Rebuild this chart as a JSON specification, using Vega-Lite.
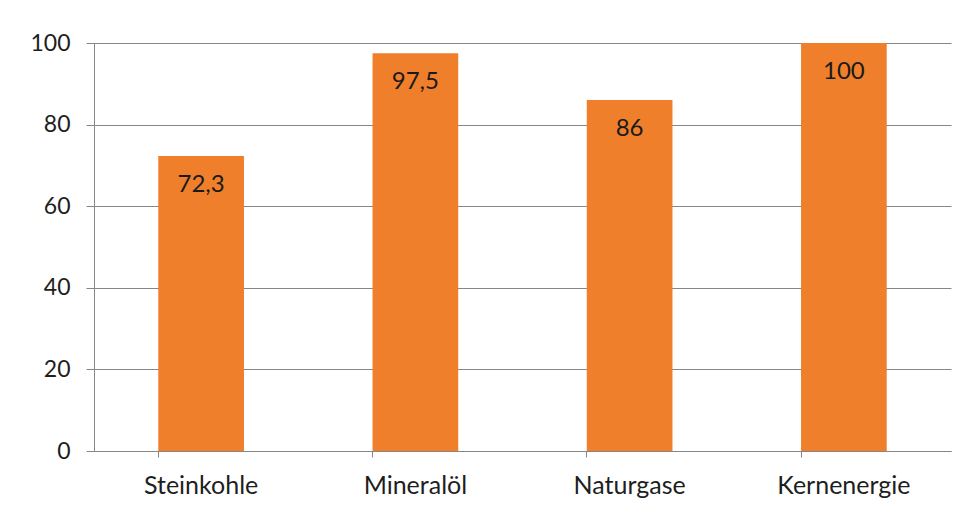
{
  "$schema": "https://vega.github.io/schema/vega-lite/v6.json",
  "autosize": "none",
  "width": 857,
  "height": 408,
  "padding": {"left": 94, "top": 43, "right": 19, "bottom": 62},
  "background": "white",
  "config": {
    "view": {"stroke": null},
    "font": "Lato"
  },
  "data": {
    "values": [
      {"Energietraeger": "Steinkohle", "Wert": 72.3, "Beschriftung": "72,3"},
      {"Energietraeger": "Mineralöl", "Wert": 97.5, "Beschriftung": "97,5"},
      {"Energietraeger": "Naturgase", "Wert": 86, "Beschriftung": "86"},
      {"Energietraeger": "Kernenergie", "Wert": 100, "Beschriftung": "100"}
    ]
  },
  "encoding": {
    "x": {
      "field": "Energietraeger",
      "type": "nominal",
      "sort": null,
      "scale": {"paddingInner": 0.6, "paddingOuter": 0.3},
      "axis": {
        "title": null,
        "labelAngle": 0,
        "labelFontSize": 25,
        "labelColor": "#1e1e1e",
        "labelPadding": 16,
        "domainColor": "#868686",
        "tickColor": "#868686",
        "tickSize": 6,
        "bandPosition": 0
      }
    },
    "y": {
      "field": "Wert",
      "type": "quantitative",
      "scale": {"domain": [0, 100], "nice": false},
      "axis": {
        "title": null,
        "values": [0, 20, 40, 60, 80, 100],
        "labelFontSize": 23,
        "labelColor": "#1e1e1e",
        "labelPadding": 16,
        "grid": true,
        "gridColor": "#868686",
        "domainColor": "#868686",
        "tickColor": "#868686",
        "tickSize": 8
      }
    }
  },
  "layer": [
    {
      "mark": {"type": "bar", "color": "#F07F2C"}
    },
    {
      "mark": {"type": "text", "baseline": "top", "dy": 17, "fontSize": 24, "color": "#1a1a1a"},
      "encoding": {"text": {"field": "Beschriftung"}}
    }
  ]
}
